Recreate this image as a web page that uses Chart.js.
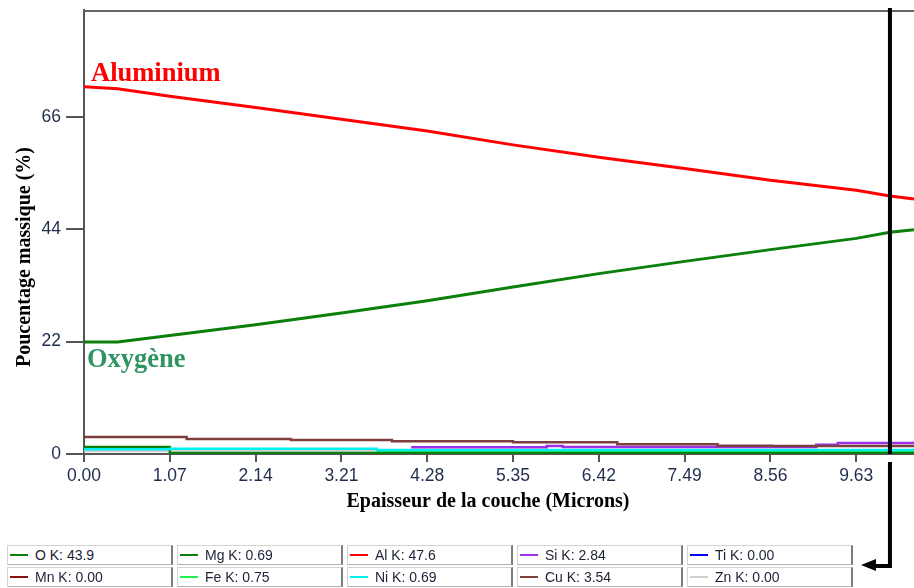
<!doctype html>
<html lang="fr">
<head>
<meta charset="utf-8">
<title>Profil de composition</title>
<script src="https://cdn.jsdelivr.net/npm/chart.js@4.4.0/dist/chart.umd.min.js"></script>
<style>
  body { margin: 0; background: #fff; }
  #wrap { position: relative; width: 914px; height: 588px; overflow: hidden; }
  #legend { position: absolute; left: 0; top: 545px; }
  .cell { position: absolute; height: 20px; width: 166px; background: #fff; box-sizing: border-box;
          border-top: 1px solid #d4d4d4; border-left: 1px solid #d4d4d4;
          border-right: 2px solid #7c7c7c; border-bottom: 1px solid #b0b0b0;
          font: 14px "Liberation Sans", Arial, sans-serif; color: #1c2236; line-height: 19px; }
  .cell i { position: absolute; left: 2px; top: 8px; width: 18px; height: 2px; }
  .cell span { position: absolute; left: 27px; top: 0; white-space: nowrap; }
</style>
</head>
<body>
<div id="wrap">
  <canvas id="myChart" width="914" height="588"></canvas>
  <div id="legend"></div>
</div>
<script>
// x positions (microns) for the two main curves
var xPts = [0, 0.42, 1.07, 2.14, 3.21, 4.28, 5.35, 6.42, 7.49, 8.56, 9.63, 10.05, 10.35];
var alValues = [71.9, 71.5, 70.0, 67.8, 65.5, 63.2, 60.5, 58.1, 55.9, 53.6, 51.6, 50.5, 49.9];
var oValues = [21.9, 21.9, 23.2, 25.3, 27.6, 30.0, 32.7, 35.3, 37.7, 40.0, 42.2, 43.4, 43.9];

// minor elements (stepped)
var cuX = [0, 1.28, 2.58, 3.84, 5.35, 6.65, 7.90, 8.58, 10.35];
var cuY = [3.34, 2.95, 2.75, 2.5, 2.3, 1.9, 1.63, 1.55, 1.55];
var siX = [4.08, 5.77, 5.97, 9.13, 9.40, 10.35];
var siY = [1.3, 1.55, 1.35, 1.8, 2.15, 2.15];
var niX = [0, 1.07, 3.65, 10.35];
var niY = [0.95, 1.05, 0.8, 0.8];
var znX = [0, 1.07, 3.65, 10.35];
var znY = [0.6, 0.7, 0.65, 0.65];
var mgX = [0, 1.07, 10.35];
var mgY = [1.35, 0.2, 0.2];
var feX = [3.65, 10.35];
var feY = [0.53, 0.53];

var xTicks = [0, 1.07, 2.14, 3.21, 4.28, 5.35, 6.42, 7.49, 8.56, 9.63];
var yTicks = [0, 22, 44, 66];
var cursorX = 10.05;

// legend boxes (values at cursor)
var legendNames = ['O K', 'Mg K', 'Al K', 'Si K', 'Ti K', 'Mn K', 'Fe K', 'Ni K', 'Cu K', 'Zn K'];
var legendValues = ['43.9', '0.69', '47.6', '2.84', '0.00', '0.00', '0.75', '0.69', '3.54', '0.00'];
var legendColors = ['#0a7f0a', '#0a7f0a', '#ff0000', '#9b30e8', '#0000ff', '#8b1010', '#22f050', '#00f0f0', '#7f3f3f', '#d0d0d0'];

function pts(xs, ys) {
  return xs.map(function (x, i) { return {x: x, y: ys[i]}; });
}

var legend = document.getElementById('legend');
legendNames.forEach(function (name, i) {
  var d = document.createElement('div');
  d.className = 'cell';
  d.style.left = (7 + (i % 5) * 170) + 'px';
  d.style.top = (Math.floor(i / 5) * 22) + 'px';
  d.innerHTML = '<i style="background:' + legendColors[i] + '"></i><span>' + name + ': ' + legendValues[i] + '</span>';
  legend.appendChild(d);
});

var decor = {
  id: 'decor',
  afterDatasetsDraw: function (chart) {
    var ctx = chart.ctx, a = chart.chartArea;
    var xs = chart.scales.x, ys = chart.scales.y;
    ctx.save();
    // top frame line
    ctx.strokeStyle = '#666';
    ctx.lineWidth = 2;
    ctx.beginPath();
    ctx.moveTo(a.left, a.top + 1);
    ctx.lineTo(a.right, a.top + 1);
    ctx.stroke();

    // element labels
    ctx.font = 'bold 26.5px "Liberation Serif", "Times New Roman", serif';
    ctx.textAlign = 'left';
    ctx.textBaseline = 'alphabetic';
    ctx.fillStyle = '#ff0000';
    ctx.fillText('Aluminium', xs.getPixelForValue(0) + 7, ys.getPixelForValue(alValues[0]) - 6);
    ctx.fillStyle = '#2f9461';
    ctx.fillText('Oxygène', xs.getPixelForValue(0) + 3, ys.getPixelForValue(oValues[0]) + 25);

    // cursor with arrow
    var cx = xs.getPixelForValue(cursorX);
    ctx.strokeStyle = '#000';
    ctx.lineWidth = 4;
    ctx.beginPath();
    ctx.moveTo(cx, a.top - 2);
    ctx.lineTo(cx, a.bottom);
    ctx.moveTo(cx, a.bottom + 8);
    ctx.lineTo(cx, 566);
    ctx.lineTo(874, 566);
    ctx.stroke();
    ctx.fillStyle = '#000';
    ctx.beginPath();
    ctx.moveTo(861, 565);
    ctx.lineTo(876, 559);
    ctx.lineTo(876, 571);
    ctx.closePath();
    ctx.fill();

    // axis titles
    ctx.fillStyle = '#000';
    ctx.font = 'bold 20px "Liberation Serif", "Times New Roman", serif';
    ctx.textAlign = 'center';
    ctx.textBaseline = 'middle';
    ctx.fillText('Epaisseur de la couche (Microns)', (a.left + a.right) / 2 - 11, a.bottom + 48);
    ctx.translate(25, (a.top + a.bottom) / 2 + 25);
    ctx.rotate(-Math.PI / 2);
    ctx.fillText('Poucentage massique (%)', 0, 0);
    ctx.restore();
  }
};

function stepLine(label, xs, ys, color, order) {
  return {label: label, data: pts(xs, ys), borderColor: color, borderWidth: 2.5,
          stepped: true, pointRadius: 0, order: order};
}

var tickFont = {family: '"Liberation Sans", Arial, sans-serif', size: 17.5};

new Chart(document.getElementById('myChart').getContext('2d'), {
  type: 'line',
  data: {
    datasets: [
      {label: 'Al', data: pts(xPts, alValues), borderColor: '#ff0000', borderWidth: 3, pointRadius: 0, order: 0},
      {label: 'O', data: pts(xPts, oValues), borderColor: '#0a7f0a', borderWidth: 3, pointRadius: 0, order: 0},
      stepLine('Cu', cuX, cuY, '#7f3f3f', 1),
      stepLine('Si', siX, siY, '#9b30e8', 1),
      stepLine('Ni', niX, niY, '#00f0f0', 2),
      stepLine('Mg', mgX, mgY, '#0a7f0a', 2),
      stepLine('Zn', znX, znY, '#d0d0d0', 3),
      stepLine('Fe', feX, feY, '#22f050', 2)
    ]
  },
  options: {
    responsive: false,
    animation: false,
    layout: {padding: {top: 10, left: 0, right: 0, bottom: 97}},
    plugins: {legend: {display: false}, tooltip: {enabled: false}},
    scales: {
      x: {
        type: 'linear', min: 0, max: 10.35,
        afterBuildTicks: function (s) { s.ticks = xTicks.map(function (v) { return {value: v}; }); },
        ticks: {callback: function (v) { return v.toFixed(2); }, font: tickFont, color: '#1f2d4d', padding: 4, maxRotation: 0},
        grid: {drawOnChartArea: false, tickLength: 8, color: '#555', lineWidth: 2},
        border: {color: '#555', width: 2}
      },
      y: {
        min: 0, max: 86.9,
        afterBuildTicks: function (s) { s.ticks = yTicks.map(function (v) { return {value: v}; }); },
        afterFit: function (s) { s.width = 84; s.paddingTop = 0; s.paddingBottom = 0; },
        ticks: {font: tickFont, color: '#1f2d4d', padding: 5},
        grid: {drawOnChartArea: false, tickLength: 18, color: '#555', lineWidth: 2},
        border: {color: '#555', width: 2}
      }
    }
  },
  plugins: [decor]
});
</script>
</body>
</html>
